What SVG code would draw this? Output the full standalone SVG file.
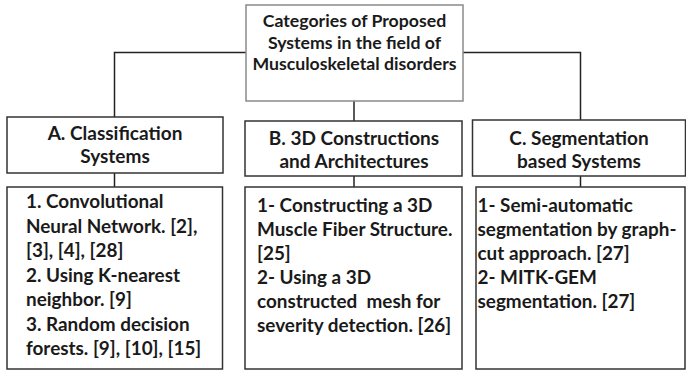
<svg xmlns="http://www.w3.org/2000/svg" width="686" height="371" viewBox="0 0 686 371">
<style>
.box{fill:#fff;stroke:#333;stroke-width:1.5}
.top{fill:#fff;stroke:#8a8a8a;stroke-width:1.5}
.conn{fill:none;stroke:#222;stroke-width:1.5}
text{font-family:Lato,"Open Sans",sans-serif;font-weight:700;fill:#1a1a1a}
.h{font-size:17.7px;text-anchor:middle}
.c{font-size:19px;text-anchor:middle}
.d{font-size:18.9px}
</style>
<rect width="686" height="371" fill="#fff"/>
<g id="connectors">
<path class="conn" d="M246 52.5H114.5V117"/>
<path class="conn" d="M463 52.5H580.5V120"/>
<path class="conn" d="M354 101V121"/>
<path class="conn" d="M114.5 173V187"/>
<path class="conn" d="M354 176V187"/>
<path class="conn" d="M580.5 176V187"/>
</g>
<g id="root">
<rect class="top" x="246" y="5" width="217" height="96"/>
<text class="h" x="354.5" y="27">Categories of Proposed</text>
<text class="h" x="354.5" y="48.5">Systems in the field of</text>
<text class="h" x="354.5" y="70">Musculoskeletal disorders</text>
</g>
<g id="catA">
<rect class="box" x="7" y="117" width="216" height="56"/>
<text class="c" x="115" y="140">A. Classification</text>
<text class="c" x="115" y="163">Systems</text>
</g>
<g id="catB">
<rect class="box" x="245" y="121" width="217" height="55"/>
<text class="c" x="354" y="145">B. 3D Constructions</text>
<text class="c" x="354" y="168">and Architectures</text>
</g>
<g id="catC">
<rect class="box" x="472.5" y="120" width="213" height="56"/>
<text class="c" x="579" y="145">C. Segmentation</text>
<text class="c" x="579" y="168">based Systems</text>
</g>
<g id="detA">
<rect class="box" x="7" y="187" width="215.5" height="182"/>
<text class="d" x="26" y="208">1. Convolutional</text>
<text class="d" x="26" y="232.5">Neural Network. [2],</text>
<text class="d" x="26" y="257">[3], [4], [28]</text>
<text class="d" x="26" y="281.5">2. Using K-nearest</text>
<text class="d" x="26" y="306">neighbor. [9]</text>
<text class="d" x="26" y="330.5">3. Random decision</text>
<text class="d" x="26" y="355">forests. [9], [10], [15]</text>
</g>
<g id="detB">
<rect class="box" x="245" y="187" width="217" height="182"/>
<text class="d" x="257" y="212">1- Constructing a 3D</text>
<text class="d" x="257" y="236">Muscle Fiber Structure.</text>
<text class="d" x="257" y="260">[25]</text>
<text class="d" x="257" y="284">2- Using a 3D</text>
<text class="d" x="257" y="308">constructed&#160; mesh for</text>
<text class="d" x="257" y="332">severity detection. [26]</text>
</g>
<g id="detC">
<rect class="box" x="476" y="187" width="209" height="182"/>
<text class="d" x="477.5" y="212">1- Semi-automatic</text>
<text class="d" x="477.5" y="236">segmentation by graph-</text>
<text class="d" x="477.5" y="260">cut approach. [27]</text>
<text class="d" x="477.5" y="284">2- MITK-GEM</text>
<text class="d" x="477.5" y="308">segmentation. [27]</text>
</g>
</svg>
